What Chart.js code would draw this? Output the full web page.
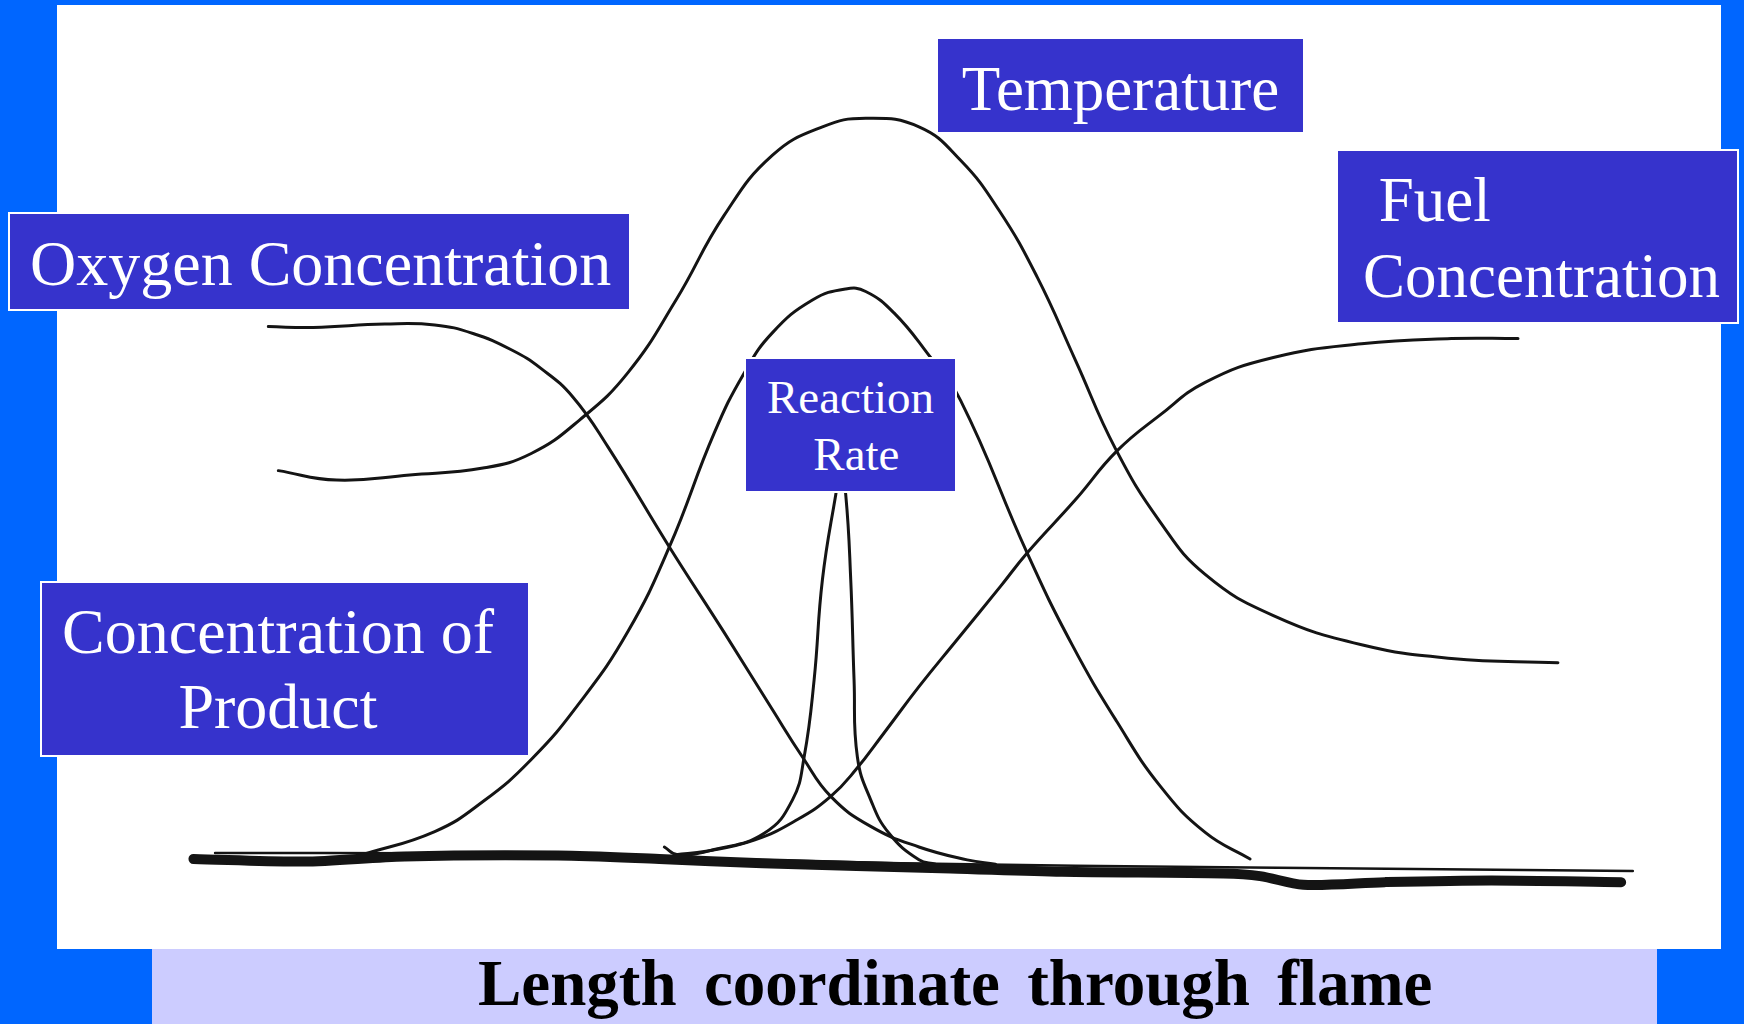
<!DOCTYPE html>
<html>
<head>
<meta charset="utf-8">
<title>Flame structure</title>
<script src="https://cdn.jsdelivr.net/npm/chart.js@4.4.1/dist/chart.umd.min.js"></script>
<style>
  html, body { margin: 0; padding: 0; }
  body { width: 1744px; height: 1024px; background: #0066ff; position: relative; overflow: hidden;
         font-family: "Liberation Serif", "Times New Roman", serif; }
  #panel { position: absolute; left: 57px; top: 5px; width: 1664px; height: 944px; background: #fff; }
  #band { position: absolute; left: 152px; top: 949px; width: 1505px; height: 75px; background: #ccccff; }
  #chart { position: absolute; left: 0; top: 0; }
  #xtitle { position: absolute; left: 478px; top: 946px; font-weight: bold; font-size: 65px; line-height: 75px;
            word-spacing: 11px; white-space: nowrap; color: #000; }
  .lbl { position: absolute; box-sizing: border-box; background: #3633cc; color: #fff;
         border: 2px solid #fff; white-space: pre; }
  #temp { left: 936px; top: 37px; width: 369px; height: 97px; font-size: 63px; line-height: 70px;
          padding-top: 15px; text-align: center; }
  #oxy { left: 8px; top: 212px; width: 623px; height: 99px; font-size: 64px; line-height: 72px;
         padding-top: 14px; padding-left: 20px; }
  #fuel { left: 1336px; top: 149px; width: 403px; height: 175px; font-size: 63px; line-height: 76px;
          padding-top: 11px; padding-left: 25px; }
  #prod { left: 40px; top: 581px; width: 490px; height: 176px; font-size: 64px; line-height: 75px;
          padding-top: 11px; padding-right: 14px; text-align: center; }
  #rate { left: 744px; top: 357px; width: 213px; height: 136px; font-size: 47px; line-height: 57px;
          padding-top: 10px; text-align: center; }
</style>
</head>
<body>
<div id="panel"></div>
<div id="band"></div>
<canvas id="chart" width="1744" height="1024"></canvas>
<div class="lbl" id="temp">Temperature</div>
<div class="lbl" id="oxy">Oxygen Concentration</div>
<div class="lbl" id="fuel"> Fuel<br>Concentration</div>
<div class="lbl" id="prod">Concentration of<br>Product</div>
<div class="lbl" id="rate">Reaction<br> Rate</div>
<div id="xtitle">Length coordinate through flame</div>

<script>
// x = position through the flame (0-100), y = relative level (0 = axis line)
const oxygenX = [12.7, 15.4, 19.7, 22.7, 25.0, 27.3, 29.1, 31.0, 33.1, 36.8, 40.1, 43.0, 44.8, 46.5, 48.9, 51.8, 54.7, 56.4];
const oxygenY = [62.6, 62.5, 62.9, 62.8, 61.8, 59.9, 57.7, 54.4, 48.6, 36.9, 26.9, 17.9, 12.4, 7.8, 4.3, 1.9, 0.4, -0.1];

const tempX = [13.3, 16.8, 21.2, 25.6, 28.5, 31.4, 34.3, 37.2, 40.1, 43.0, 46.0, 48.6, 51.8, 54.3, 56.6, 58.9, 61.2, 63.6, 66.3, 69.0, 73.1, 78.4, 83.8, 90.2];
const tempY = [45.8, 44.7, 45.3, 46.1, 47.8, 51.7, 57.2, 65.7, 75.6, 82.6, 85.9, 86.9, 85.9, 82.0, 76.2, 68.4, 58.7, 48.4, 39.8, 33.7, 28.9, 25.5, 23.9, 23.4];

const productX = [18.2, 22.7, 25.6, 28.5, 31.4, 34.3, 36.8, 39.5, 41.3, 43.0, 45.4, 47.4, 48.6, 50.3, 52.3, 54.3, 58.3, 61.0, 63.7, 66.3, 69.0, 71.7];
const productY = [0.9, 3.7, 7.2, 12.1, 18.7, 27.0, 36.9, 50.2, 57.2, 61.9, 65.7, 67.0, 66.7, 64.2, 59.5, 54.0, 36.2, 25.5, 16.5, 9.0, 3.6, 0.5];

const rateX = [36.5, 37.3, 39.5, 42.5, 44.2, 44.9, 45.5, 46.0, 46.8, 47.1, 47.4, 47.7, 47.9, 48.1, 48.9, 50.0, 51.8, 52.8];
const rateY = [1.9, 1.0, 1.6, 3.5, 7.4, 12.4, 21.4, 33.1, 43.0, 45.9, 43.0, 33.1, 21.4, 12.4, 7.4, 3.5, 0.4, -0.1];

const fuelX = [37.2, 39.0, 41.9, 44.5, 46.5, 48.0, 49.7, 51.8, 54.1, 56.7, 58.3, 61.2, 63.7, 66.3, 69.0, 73.1, 78.4, 83.8, 87.8];
const fuelY = [1.0, 1.4, 2.7, 5.1, 7.8, 10.9, 15.2, 20.6, 26.1, 32.3, 36.2, 42.4, 48.1, 52.3, 56.1, 59.0, 60.6, 61.2, 61.2];

// hand drawn axis line (thick stroke + thin stroke on top of it)
const axisX = [8.2, 14.8, 20.9, 30.1, 36.2, 42.4, 53.7, 60.4, 70.1, 72.3, 74.9, 79.8, 86.2, 94.0];
const axisY = [0.5, 0.2, 0.8, 0.9, 0.5, 0.0, -0.6, -1.0, -1.2, -1.5, -2.5, -2.2, -2.0, -2.2];
const strokeX = [9.5, 26.6, 50.7, 71.7, 94.7];
const strokeY = [1.2, 1.1, 0.0, -0.5, -0.9];

const pts = (xs, ys) => xs.map((x, i) => ({ x: x, y: ys[i] }));

const curve = (label, xs, ys) => ({
  label: label,
  data: pts(xs, ys),
  borderColor: '#141414',
  borderWidth: 3,
  tension: 0.45,
  cubicInterpolationMode: 'default',
  pointRadius: 0,
  borderCapStyle: 'round',
  borderJoinStyle: 'round',
  fill: false,
});

const axisLine = curve('Axis', axisX, axisY);
axisLine.borderWidth = 10;
axisLine.tension = 0.3;
const axisStroke = curve('Axis stroke', strokeX, strokeY);
axisStroke.borderWidth = 2.5;
axisStroke.tension = 0.3;

const ctx = document.getElementById('chart');
window.flameChart = new Chart(ctx, {
  type: 'line',
  data: {
    datasets: [
      axisLine,
      axisStroke,
      curve('Oxygen Concentration', oxygenX, oxygenY),
      curve('Temperature', tempX, tempY),
      curve('Concentration of Product', productX, productY),
      curve('Reaction Rate', rateX, rateY),
      curve('Fuel Concentration', fuelX, fuelY),
    ],
  },
  options: {
    responsive: false,
    animation: false,
    layout: { padding: { left: 57, right: 23, top: 6, bottom: 75 } },
    plugins: { legend: { display: false }, tooltip: { enabled: false } },
    scales: {
      x: { type: 'linear', min: 0, max: 100, display: false },
      y: { min: -10, max: 100, display: false },
    },
  },
});
</script>
</body>
</html>
